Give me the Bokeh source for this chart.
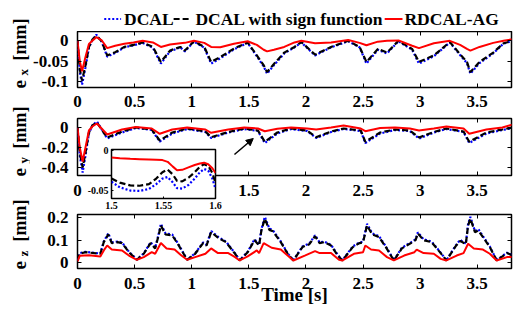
import math
from bokeh.plotting import figure
from bokeh.models import (Range1d, LinearAxis, FixedTicker, Arrow, NormalHead)
from bokeh.core.properties import value
from bokeh.layouts import column, row
from bokeh.embed import file_html
from bokeh.resources import INLINE

# ---------------- data ----------------
x_ticks = [0, 0.5, 1, 1.5, 2, 2.5, 3, 3.5]
x_tick_labels = ["0", "0.5", "1", "1.5", "2", "2.5", "3", "3.5"]

# e_x panel
t_x = [0, 0.02, 0.04, 0.07, 0.10, 0.13, 0.165, 0.21, 0.26, 0.33, 0.41, 0.49, 0.57,
       0.66, 0.73, 0.81, 0.90, 0.94, 1.02, 1.11, 1.17, 1.25, 1.37, 1.49, 1.57, 1.63,
       1.66, 1.72, 1.81, 1.90, 1.96, 2.08, 2.22, 2.37, 2.47, 2.53, 2.63, 2.71, 2.81,
       2.93, 2.99, 3.12, 3.26, 3.35, 3.41, 3.44, 3.52, 3.64, 3.73, 3.81]
ex_dcal = [0, -0.075, -0.108, -0.065, -0.017, 0.002, 0.015, -0.001, -0.039, -0.030,
           -0.016, -0.011, -0.005, -0.017, -0.056, -0.026, -0.016, -0.026, -0.002, -0.017,
           -0.056, -0.043, -0.021, -0.005, -0.038, -0.063, -0.081, -0.060, -0.031, -0.016,
           -0.004, -0.036, -0.016, -0.001, -0.016, -0.056, -0.022, -0.031, -0.001, -0.022,
           -0.056, -0.038, -0.004, -0.035, -0.055, -0.081, -0.055, -0.031, -0.007, 0.0]
ex_sign = [0, -0.07, -0.098, -0.06, -0.015, 0.003, 0.012, 0.0, -0.036, -0.028,
           -0.015, -0.01, -0.004, -0.015, -0.052, -0.024, -0.015, -0.024, -0.001, -0.015,
           -0.052, -0.04, -0.019, -0.004, -0.036, -0.06, -0.077, -0.057, -0.029, -0.015,
           -0.003, -0.034, -0.015, 0.0, -0.015, -0.052, -0.02, -0.029, 0.0, -0.02,
           -0.052, -0.036, -0.003, -0.033, -0.052, -0.077, -0.052, -0.029, -0.006, 0.0]
ex_rdcal = [0, -0.05, -0.075, -0.04, -0.008, 0.0, 0.009, 0.002, -0.018, -0.012,
            -0.007, -0.004, 0.0, -0.004, -0.015, -0.009, -0.006, -0.005, 0.0, -0.005,
            -0.015, -0.016, -0.007, -0.001, -0.01, -0.022, -0.026, -0.022, -0.015, -0.004,
            0.0, -0.006, -0.004, 0.002, -0.005, -0.011, -0.002, 0.0, 0.001, -0.012,
            -0.018, -0.006, 0.0, -0.01, -0.02, -0.024, -0.015, -0.005, 0.0, 0.004]
ex_ticks = [0, -0.05, -0.1]
ex_tick_labels = ["0", "-0.05", "-0.1"]

# e_y panel
t_y = [0, 0.02, 0.045, 0.07, 0.10, 0.13, 0.17, 0.26, 0.39, 0.51, 0.65, 0.72, 0.83,
       0.96, 1.12, 1.17, 1.32, 1.46, 1.58, 1.64, 1.75, 1.87, 2.01, 2.09, 2.22, 2.33,
       2.48, 2.52, 2.65, 2.78, 2.91, 2.99, 3.12, 3.23, 3.38, 3.43, 3.58, 3.72, 3.81]
ey_dcal = [0, -0.28, -0.45, -0.28, -0.06, 0.02, 0.06, -0.11, -0.05, -0.005,
           -0.025, -0.14, -0.06, -0.015, -0.045, -0.105, -0.05, -0.015, -0.035, -0.155,
           -0.06, -0.015, -0.035, -0.105, -0.045, -0.015, -0.035, -0.155, -0.06, -0.025,
           -0.035, -0.11, -0.05, -0.015, -0.045, -0.155, -0.06, -0.025, -0.005]
ey_sign = [0, -0.25, -0.40, -0.25, -0.05, 0.02, 0.05, -0.10, -0.04, 0.0,
           -0.02, -0.13, -0.05, -0.01, -0.04, -0.097, -0.045, -0.01, -0.03, -0.143,
           -0.05, -0.01, -0.03, -0.097, -0.04, -0.01, -0.03, -0.143, -0.05, -0.02,
           -0.03, -0.10, -0.045, -0.01, -0.04, -0.143, -0.05, -0.02, 0.0]
ey_rdcal = [0, -0.2, -0.34, -0.2, -0.03, 0.01, 0.04, -0.07, -0.02, 0.005,
            -0.01, -0.063, -0.02, 0.0, -0.02, -0.053, -0.02, 0.0, -0.01, -0.037,
            -0.012, 0.0, -0.01, -0.02, 0.0, 0.02, -0.01, -0.037, -0.005, 0.0,
            -0.01, -0.03, -0.01, 0.01, -0.01, -0.063, -0.02, 0.0, 0.03]
ey_ticks = [0, -0.2, -0.4]
ey_tick_labels = ["0", "-0.2", "-0.4"]

# inset of e_y (1.5 s .. 1.6 s)
t_in = [1.500, 1.508, 1.518, 1.527, 1.536, 1.543, 1.549, 1.554, 1.559, 1.563,
        1.568, 1.574, 1.580, 1.585, 1.589, 1.593, 1.597, 1.600]
in_dcal = [-0.039, -0.046, -0.050, -0.0505, -0.048, -0.042, -0.035, -0.033, -0.040, -0.047,
           -0.0475, -0.043, -0.035, -0.027, -0.023, -0.025, -0.035, -0.048]
in_sign = [-0.035, -0.040, -0.0436, -0.0440, -0.0420, -0.035, -0.027, -0.0237, -0.030, -0.038,
           -0.0385, -0.034, -0.027, -0.020, -0.017, -0.019, -0.028, -0.0406]
in_rdcal = [-0.0085, -0.0095, -0.0102, -0.0106, -0.011, -0.0113, -0.0118, -0.014, -0.020, -0.0245,
            -0.0240, -0.021, -0.018, -0.0160, -0.0150, -0.0170, -0.0220, -0.0280]
in_x_ticks = [1.5, 1.55, 1.6]
in_x_tick_labels = ["1.5", "1.55", "1.6"]
in_y_ticks = [0, -0.05]
in_y_tick_labels = ["0", "-0.05"]

# e_z panel
t_z = [0, 0.02, 0.07, 0.20, 0.23, 0.27, 0.30, 0.35, 0.39, 0.45,
       0.52, 0.58, 0.64, 0.68, 0.71, 0.73, 0.77, 0.83, 0.88, 0.96,
       1.03, 1.10, 1.13, 1.17, 1.23, 1.30, 1.38, 1.42, 1.49, 1.55,
       1.59, 1.61, 1.64, 1.68, 1.71, 1.78, 1.84, 1.89, 1.97, 2.03,
       2.08, 2.12, 2.16, 2.22, 2.28, 2.32, 2.41, 2.47, 2.50, 2.535,
       2.58, 2.64, 2.70, 2.77, 2.84, 2.92, 2.96, 2.98, 3.03, 3.10,
       3.18, 3.23, 3.31, 3.35, 3.40, 3.42, 3.44, 3.48, 3.51, 3.55,
       3.61, 3.67, 3.76, 3.81]
ez_dcal = [0.01, 0.042, 0.048, 0.040, 0.094, 0.131, 0.090, 0.094, 0.090, 0.048,
           0.013, 0.041, 0.090, 0.066, 0.126, 0.173, 0.131, 0.125, 0.085, 0.013,
           0.041, 0.090, 0.079, 0.141, 0.115, 0.094, 0.041, 0.010, 0.048, 0.104,
           0.079, 0.149, 0.204, 0.152, 0.145, 0.094, 0.041, 0.010, 0.072, 0.085,
           0.122, 0.090, 0.094, 0.079, 0.033, 0.010, 0.072, 0.090, 0.093, 0.173,
           0.131, 0.118, 0.072, 0.010, 0.066, 0.090, 0.104, 0.135, 0.104, 0.094,
           0.044, 0.010, 0.075, 0.101, 0.085, 0.173, 0.204, 0.141, 0.149, 0.118,
           0.072, 0.010, 0.044, 0.033]
ez_sign = [0.01, 0.04, 0.046, 0.039, 0.091, 0.126, 0.087, 0.091, 0.087, 0.046,
           0.012, 0.039, 0.087, 0.063, 0.121, 0.166, 0.126, 0.121, 0.082, 0.012,
           0.039, 0.087, 0.076, 0.136, 0.111, 0.091, 0.039, 0.009, 0.046, 0.1,
           0.076, 0.143, 0.196, 0.146, 0.14, 0.091, 0.039, 0.009, 0.069, 0.082,
           0.117, 0.087, 0.091, 0.076, 0.031, 0.009, 0.069, 0.087, 0.09, 0.166,
           0.126, 0.114, 0.069, 0.009, 0.063, 0.087, 0.1, 0.13, 0.1, 0.091,
           0.042, 0.009, 0.072, 0.097, 0.082, 0.166, 0.196, 0.136, 0.143, 0.114,
           0.069, 0.009, 0.042, 0.031]
t_zr = [0, 0.02, 0.10, 0.20, 0.23, 0.26, 0.30, 0.39, 0.45, 0.52,
        0.58, 0.65, 0.68, 0.73, 0.78, 0.85, 0.91, 0.96, 1.03, 1.12,
        1.17, 1.23, 1.32, 1.38, 1.42, 1.49, 1.57, 1.59, 1.63, 1.70,
        1.78, 1.84, 1.89, 1.99, 2.08, 2.12, 2.22, 2.29, 2.32, 2.42,
        2.50, 2.52, 2.57, 2.64, 2.71, 2.77, 2.86, 2.95, 2.97, 3.03,
        3.12, 3.18, 3.23, 3.32, 3.38, 3.42, 3.47, 3.55, 3.61, 3.67,
        3.76, 3.81]
ez_rdcal = [0.005, 0.03, 0.032, 0.027, 0.054, 0.076, 0.058, 0.054, 0.031, 0.012,
            0.024, 0.046, 0.039, 0.087, 0.063, 0.058, 0.031, 0.012, 0.024, 0.039,
            0.063, 0.042, 0.042, 0.024, 0.009, 0.027, 0.054, 0.042, 0.087, 0.066,
            0.058, 0.031, 0.009, 0.031, 0.051, 0.042, 0.042, 0.012, 0.009, 0.039,
            0.046, 0.076, 0.058, 0.054, 0.024, 0.009, 0.031, 0.046, 0.058, 0.042,
            0.039, 0.016, 0.009, 0.031, 0.042, 0.084, 0.063, 0.058, 0.039, 0.009,
            0.024, 0.024]
ez_ticks = [0, 0.1, 0.2]
ez_tick_labels = ["0", "0.1", "0.2"]

series_names = ["DCAL", "DCAL with sign function", "RDCAL-AG"]
y_label_main = ["e", "e", "e"]
y_label_sub = ["x", "y", "z"]
y_label_unit = ["[mm]", "[mm]", "[mm]"]
x_label = "Time [s]"
arrow_from = (1.374, -0.27)
arrow_to = (1.539, -0.11)

# ---------------- layout / styling ----------------
FONT = "Liberation Serif"
LAB_W = 30              # strip holding the rotated y labels
PW = 513 - LAB_W        # panel width
BL, BR = 43, 2          # panel left / right borders
HL, H1, H2, H3 = 31, 81, 87, 110
TOTAL_H = HL + H1 + H2 + H3
frame_bottoms = [87, 175, 268]   # page pixels, used to place the y labels
BLUE, BLACK, RED = "#0000ff", "black", "#ff0000"
DOT, DASH = "2 2", "6 3"
# legend layout in page pixels: key start/end and label start
leg_key_x0 = [100, 170, 383]
leg_key_x1 = [117, 188, 401]
leg_text_x = [120, 192, 403]
leg_y = 18.5


def mk_axis(ticks, labels, size="17px", standoff=8, tick_len=4):
    ax = LinearAxis(ticker=FixedTicker(ticks=ticks, minor_ticks=[]))
    ax.axis_line_color = None
    ax.major_tick_in = tick_len
    ax.major_tick_out = 0
    ax.minor_tick_line_color = None
    ax.major_tick_line_color = "black"
    ax.major_tick_line_width = 1
    if labels is None:
        ax.major_label_overrides = {float(k): "" for k in ticks}
        ax.major_label_text_font_size = "0px"
        ax.major_label_standoff = 0
    else:
        ax.major_label_overrides = {float(k): v for k, v in zip(ticks, labels)}
        ax.major_label_text_font = FONT
        ax.major_label_text_font_style = "bold"
        ax.major_label_text_font_size = size
        ax.major_label_text_color = "black"
        ax.major_label_standoff = standoff
    return ax


def panel(h, top, bottom, yr, yt, ytl, tick_standoff=8):
    p = figure(width=PW, height=h, x_range=Range1d(0, 3.8), y_range=Range1d(*yr),
               x_axis_type=None, y_axis_type=None, output_backend="svg",
               toolbar_location=None, min_border_left=BL, min_border_right=BR,
               min_border_top=top, min_border_bottom=bottom)
    p.outline_line_color = "black"
    p.outline_line_width = 1.5
    p.outline_line_alpha = 1
    p.background_fill_color = "white"
    p.border_fill_color = "white"
    bx = mk_axis(x_ticks, x_tick_labels, standoff=tick_standoff)
    p.add_layout(bx, "below")
    p.add_layout(mk_axis(yt, ytl, standoff=9), "left")
    p.add_layout(mk_axis(x_ticks, None), "above")
    p.add_layout(mk_axis(yt, None), "right")
    return p, bx


def draw(p, t, blue, black, tr, red, w=2.2):
    rb = p.line(t, blue, line_color=BLUE, line_width=w, line_dash=DOT)
    rk = p.line(t, black, line_color=BLACK, line_width=w, line_dash=DASH)
    rr = p.line(tr, red, line_color=RED, line_width=2)
    return rb, rk, rr


def strip(w, h, x0, x1, y0, y1, bl=0, br=0):
    """A plain figure whose data coordinates are page pixels."""
    s = figure(width=w, height=h, x_range=Range1d(x0, x1), y_range=Range1d(y1, y0),
               x_axis_type=None, y_axis_type=None, output_backend="svg",
               toolbar_location=None, min_border_left=bl, min_border_right=br,
               min_border_top=0, min_border_bottom=0)
    s.outline_line_color = None
    s.background_fill_color = "white"
    s.border_fill_color = "white"
    return s


p1, _ = panel(H1, 0, 25, (-0.115, 0.023), ex_ticks, ex_tick_labels)
draw(p1, t_x, ex_dcal, ex_sign, t_x, ex_rdcal)

p2, _ = panel(H2, 6, 24, (-0.48, 0.09), ey_ticks, ey_tick_labels, tick_standoff=9)
draw(p2, t_y, ey_dcal, ey_sign, t_y, ey_rdcal)
p2.add_layout(Arrow(x_start=arrow_from[0], y_start=arrow_from[1], x_end=arrow_to[0],
                    y_end=arrow_to[1], line_width=1.5, line_color="black",
                    end=NormalHead(size=7, fill_color="black", line_color="black")))

p3, bx3 = panel(H3, 15, 41, (-0.027, 0.215), ez_ticks, ez_tick_labels, tick_standoff=9)
draw(p3, t_z, ez_dcal, ez_sign, t_zr, ez_rdcal)
bx3.axis_label = x_label
bx3.axis_label_text_font = FONT
bx3.axis_label_text_font_style = "bold"
bx3.axis_label_text_font_size = "19px"
bx3.axis_label_text_color = "black"
bx3.axis_label_standoff = -8

# legend strip above the first panel (frame aligned with the panels below)
leg = strip(PW, HL, LAB_W + BL, 513 - BR, 0, HL, bl=BL, br=BR)
styles = [dict(line_color=BLUE, line_width=2.2, line_dash=DOT),
          dict(line_color=BLACK, line_width=2.2, line_dash=DASH),
          dict(line_color=RED, line_width=2)]
for i in range(3):
    leg.line([leg_key_x0[i], leg_key_x1[i]], [leg_y, leg_y], **styles[i])
leg.text(x=leg_text_x, y=[leg_y] * 3, text=series_names, text_font=value(FONT),
         text_font_style="bold", text_font_size="17.5px", text_align="left",
         text_baseline="middle", text_color="black")

# strip with the rotated y-axis labels
lab = strip(LAB_W, TOTAL_H, 0, LAB_W, 0, TOTAL_H)
txt = dict(angle=math.pi / 2, text_font=value(FONT), text_font_style="bold",
           text_align="left", text_baseline="alphabetic", text_color="black")
lab.text(x=[19] * 3, y=[fb + 1 for fb in frame_bottoms], text=y_label_main,
         text_font_size="19px", **txt)
lab.text(x=[23] * 3, y=[fb - 12 for fb in frame_bottoms], text=y_label_sub,
         text_font_size="13px", **txt)
lab.text(x=[19] * 3, y=[fb - 27 for fb in frame_bottoms], text=y_label_unit,
         text_font_size="18px", **txt)

# inset (absolutely positioned over the e_y panel)
pin = figure(width=144, height=71, x_range=Range1d(1.5, 1.6), y_range=Range1d(-0.06, 0.0015),
             x_axis_type=None, y_axis_type=None, output_backend="svg", toolbar_location=None,
             min_border_left=32, min_border_right=8, min_border_top=4, min_border_bottom=18,
             border_fill_color=None, background_fill_color="white",
             styles={"position": "absolute", "left": "79px", "top": "145px", "z-index": "5"})
pin.outline_line_color = "black"
pin.outline_line_width = 1.5
pin.add_layout(mk_axis(in_x_ticks, in_x_tick_labels, size="10px", standoff=3, tick_len=2), "below")
pin.add_layout(mk_axis(in_y_ticks, in_y_tick_labels, size="10px", standoff=3, tick_len=2), "left")
draw(pin, t_in, in_dcal, in_sign, t_in, in_rdcal, w=2.2)

layout = row(lab, column(leg, p1, p2, p3, spacing=0), spacing=0)
open("out.html", "w").write(file_html([layout, pin], INLINE))
